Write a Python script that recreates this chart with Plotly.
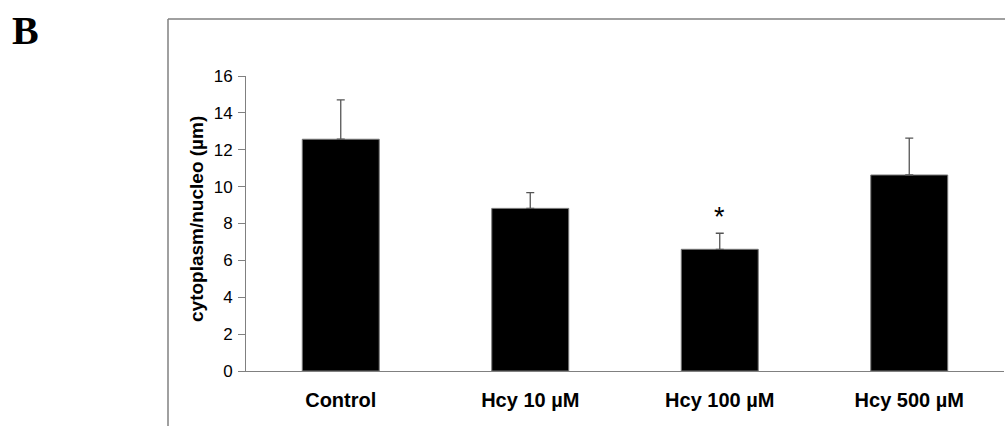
import plotly.graph_objects as go

categories = ["Control", "Hcy 10 µM", "Hcy 100 µM", "Hcy 500 µM"]
values = [12.57, 8.82, 6.6, 10.63]
errors = [2.13, 0.86, 0.87, 2.0]
y_ticks = [0, 2, 4, 6, 8, 10, 12, 14, 16]
sig_marks = ["", "", "*", ""]

W, H = 1005, 426
L, R, T, B = 246, 1, 76, 55
pw, ph = W - L - R, H - T - B

def px_x(x):
    return (x - L) / pw

def px_y(y):
    return (H - B - y) / ph

fig = go.Figure()
fig.add_trace(go.Bar(
    x=list(range(len(categories))), y=values, width=0.406,
    marker=dict(color="black", line=dict(color="#777777", width=1)),
    error_y=dict(type="data", array=errors, symmetric=False, arrayminus=[0]*4,
                 color="#555555", thickness=1.3, width=4),
))

for i, s in enumerate(sig_marks):
    if s:
        fig.add_annotation(x=i, y=values[i] + errors[i], text=s, showarrow=False,
                           yshift=16, yanchor="middle",
                           font=dict(family="Arial, Liberation Sans", size=27, color="black"))

# outer frame (left and top)
fx = px_x(168)
fy = px_y(19)
fig.add_shape(type="line", xref="paper", yref="paper", x0=fx, x1=fx, y0=px_y(H + 5), y1=fy,
              line=dict(color="#808080", width=1.5))
fig.add_shape(type="line", xref="paper", yref="paper", x0=fx, x1=px_x(W + 5), y0=fy, y1=fy,
              line=dict(color="#808080", width=1.5))

fig.add_annotation(xref="paper", yref="paper", x=px_x(10), y=px_y(30),
                   text="<b>B</b>", showarrow=False, xanchor="left", yanchor="middle",
                   font=dict(family="Liberation Serif, Times New Roman", size=40, color="black"))

# y-axis title
fig.add_annotation(xref="paper", yref="paper", x=px_x(196), y=px_y(219),
                   text="<b>cytoplasm/nucleo (µm)</b>", showarrow=False, textangle=-90,
                   xanchor="center", yanchor="middle",
                   font=dict(family="Arial, Liberation Sans", size=19, color="black"))

fig.update_layout(
    width=W, height=H, margin=dict(l=L, r=R, t=T, b=B),
    plot_bgcolor="white", paper_bgcolor="white", showlegend=False,
    xaxis=dict(range=[-0.5, 3.5], tickvals=list(range(len(categories))), ticktext=[f"<b>{c}</b>" for c in categories],
               showline=True, linecolor="#808080", linewidth=1, ticks="", showgrid=False, zeroline=False,
               tickfont=dict(family="Arial, Liberation Sans", size=20, color="black"), ticklabelstandoff=11),
    yaxis=dict(range=[0, 16], tickvals=y_ticks, showline=True, linecolor="#808080", linewidth=1,
               ticks="outside", ticklen=7, tickcolor="#808080", showgrid=False, zeroline=False,
               tickfont=dict(family="Arial, Liberation Sans", size=17, color="black"), ticklabelstandoff=2),
)

fig.write_html("out.html")
